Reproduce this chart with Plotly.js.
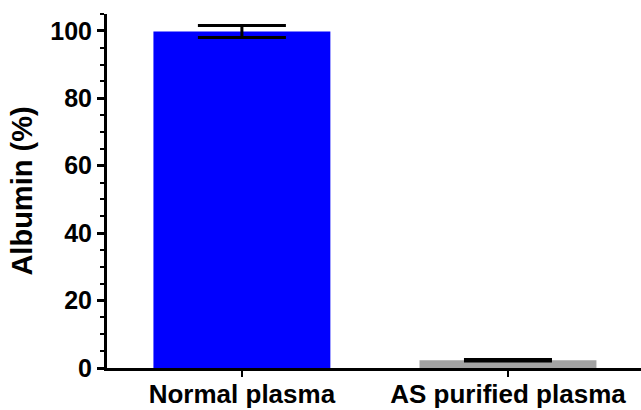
<!DOCTYPE html>
<html>
<head>
<meta charset="utf-8">
<script src="https://cdn.plot.ly/plotly-3.0.1.min.js"></script>
<style>html,body{margin:0;padding:0;background:#fff;}#chart{width:641px;height:410px;}</style>
</head>
<body>
<div id="chart"></div>
<script>
var categories = ["Normal plasma", "AS purified plasma"];
var albuminValues = [99.8, 2.3];
var albuminErrors = [1.8, 0.25];
var barColors = ["#0000ff", "#a3a3a3"];
var yTickVals = [0, 20, 40, 60, 80, 100];

var fam = "Liberation Sans, Arial, sans-serif";

var trace = {
  type: "bar",
  x: categories,
  y: albuminValues,
  marker: {color: barColors, line: {width: 0}},
  width: 0.665,
  error_y: {type: "data", array: albuminErrors, visible: true, color: "#000", thickness: 3, width: 44}
};

var layout = {
  width: 641, height: 410,
  margin: {l: 107, r: 0, t: 14, b: 42},
  paper_bgcolor: "#fff", plot_bgcolor: "#fff",
  showlegend: false,
  font: {family: fam, color: "#000", weight: "bold"},
  xaxis: {
    range: [-0.507, 1.5],
    showline: true, linecolor: "#000", linewidth: 3,
    ticks: "outside", ticklen: 6, tickwidth: 2, tickcolor: "#000",
    ticklabelstandoff: -5,
    showgrid: false, zeroline: false,
    tickfont: {family: fam, size: 26, color: "#000", weight: "bold"}
  },
  yaxis: {
    range: [0, 105],
    showline: true, linecolor: "#000", linewidth: 3,
    ticks: "outside", ticklen: 7, tickwidth: 3, tickcolor: "#000",
    tickvals: yTickVals,
    minor: {dtick: 5, ticks: "outside", ticklen: 4, tickwidth: 2, tickcolor: "#000", showgrid: false},
    showgrid: false, zeroline: false,
    tickfont: {family: fam, size: 25, color: "#000", weight: "bold"},
    title: {text: "Albumin (%)", font: {family: fam, size: 29, color: "#000", weight: "bold"}, standoff: 10}
  }
};

Plotly.newPlot("chart", [trace], layout, {displayModeBar: false, staticPlot: true});
</script>
</body>
</html>
